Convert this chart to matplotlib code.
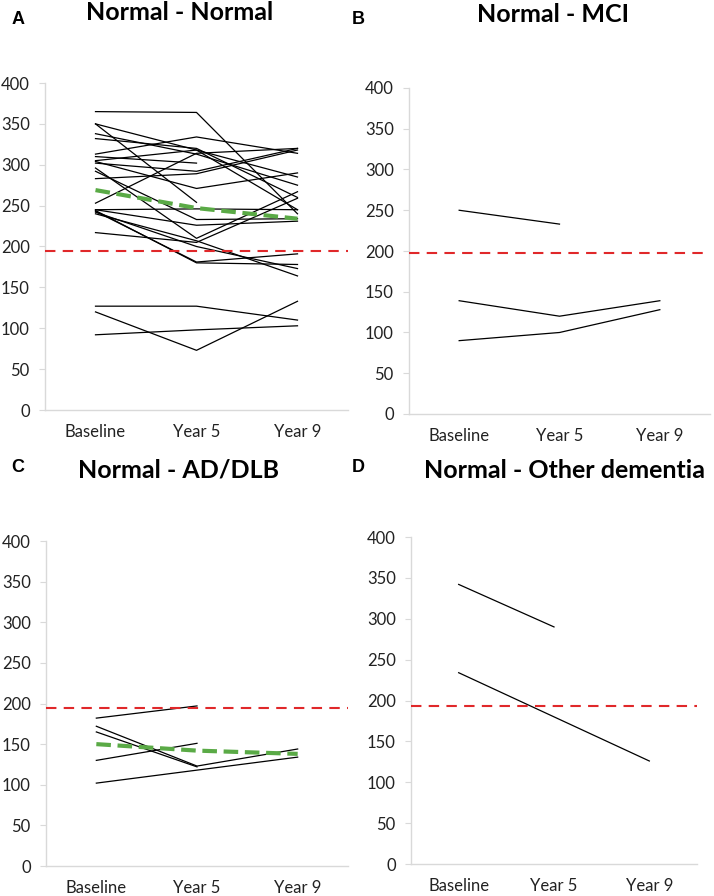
import numpy as np
import matplotlib
matplotlib.use("Agg")
import matplotlib.pyplot as plt

plt.rcParams["font.family"] = ["Lato", "DejaVu Sans"]

timepoints = ["Baseline", "Year 5", "Year 9"]
nan = np.nan

# individual trajectories, one row per subject: baseline, year 5, year 9
normal_normal = [
    [365, 364, 240],
    [350, 254, nan],
    [350, 318, 285],
    [338, 313, 275],
    [332, 320, 260],
    [313, 334, 314],
    [310, 302, nan],
    [305, 318, 245],
    [304, 271, 290],
    [302, 292, 320],
    [296, 210, 267],
    [292, 233, 234],
    [283, 289, 318],
    [253, 314, 320],
    [245, 246, 245],
    [245, 226, 231],
    [243, 181, 191],
    [244, 180, 178],
    [240, 207, 164],
    [242, 200, 173],
    [217, 205, 259],
    [127, 127, 110],
    [120, 73, 133],
    [92, 98, 103],
]
normal_mci = [
    [250, 233, nan],
    [139, 120, 139],
    [90, 100, 128],
]
normal_ad = [
    [182, 197, nan],
    [172, 123, 144],
    [165, 122, nan],
    [130, 151, nan],
    [102, 118, 134],
]
normal_other = [
    [342, 290, nan],
    [234, 180, 126],
]

# group means (green) and cut-off (red)
mean_a = [269, 247, 234]
mean_c = [150, 142, 138]
cutoffs = [195, 197, 195, 193]

panels = [
    ("A", "Normal - Normal", normal_normal, mean_a, cutoffs[0]),
    ("B", "Normal - MCI", normal_mci, None, cutoffs[1]),
    ("C", "Normal - AD/DLB", normal_ad, mean_c, cutoffs[2]),
    ("D", "Normal - Other dementia", normal_other, None, cutoffs[3]),
]

W, H = 714, 896
# axes boxes in pixels: left, top, right, bottom
boxes = [(45, 83, 348, 410), (409, 88, 710, 414), (46, 541, 348, 866), (411, 537, 697, 864)]
# title centre (x, y) and panel letter position in pixels
title_pos = [(180, 13), (553, 14), (178, 470), (564, 470)]
letter_pos = [(18, 20), (358, 20), (18, 467), (358, 467)]

fig = plt.figure(figsize=(W / 100, H / 100), dpi=100)
x = np.arange(len(timepoints))

for i, (letter, title, rows, mean, cut) in enumerate(panels):
    l, t, r, b = boxes[i]
    ax = fig.add_axes([l / W, 1 - b / H, (r - l) / W, (b - t) / H])
    for row in rows:
        ax.plot(x, row, color="black", lw=0.9)
    if mean is not None:
        ax.plot(x, mean, color="#5aaa46", lw=3, dashes=(3.5, 1.6), zorder=3)
    ax.axhline(cut, color="#e0282a", lw=1.5, dashes=(5, 3.5), zorder=4)
    ax.set_xlim(-0.5, 2.5)
    ax.set_ylim(0, 400)
    ax.set_yticks(range(0, 401, 50))
    ax.set_xticks(x)
    ax.set_xticklabels(timepoints)
    for s in ["top", "right"]:
        ax.spines[s].set_visible(False)
    for s in ["left", "bottom"]:
        ax.spines[s].set_color("#d9d9d9")
        ax.spines[s].set_linewidth(1)
    ax.tick_params(axis="y", length=4, color="#d9d9d9", pad=7, labelsize=12, labelcolor="#222222")
    ax.tick_params(axis="x", length=0, pad=10, labelsize=12, labelcolor="#222222")

    fig.text(title_pos[i][0] / W, 1 - title_pos[i][1] / H, title, ha="center", va="center",
             fontsize=18, fontweight="bold")
    fig.text(letter_pos[i][0] / W, 1 - letter_pos[i][1] / H, letter, ha="center", va="center",
             fontsize=13, fontweight="bold", family="Liberation Sans")

fig.savefig("out.png", dpi=100)
